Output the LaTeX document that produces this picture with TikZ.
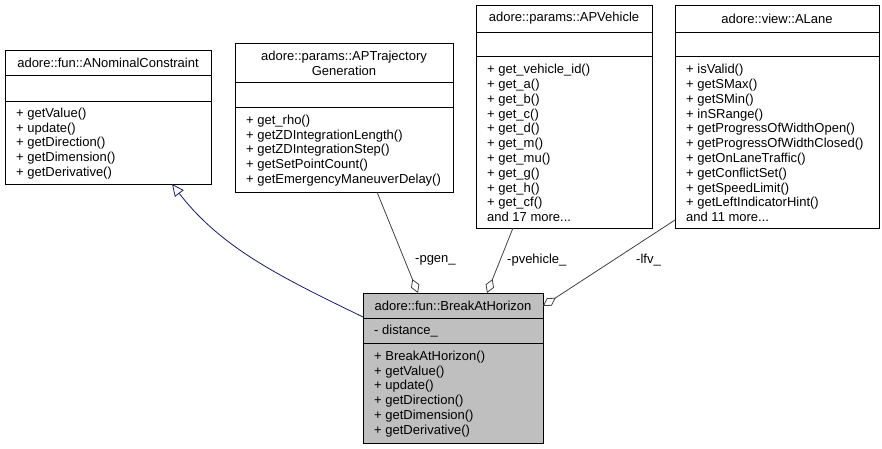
\documentclass[tikz,border=0pt]{standalone}
\usepackage{fontspec}
\setmainfont{Liberation Sans}
\usetikzlibrary{arrows.meta}
\definecolor{edgeblue}{HTML}{191970}
\definecolor{edgegray}{HTML}{404040}
\definecolor{boxgray}{HTML}{BFBFBF}
\begin{document}
\begin{tikzpicture}[x=1pt,y=-1pt,
  font=\fontsize{13}{14.8}\selectfont,
  umlbox/.style={draw=black, line width=0.9pt, fill=white, inner sep=0pt, anchor=north west},
  divider/.style={draw=black, line width=0.9pt},
  titletxt/.style={anchor=center, align=center, inner sep=0pt},
  membtxt/.style={anchor=west, align=left, inner sep=0pt},
  inherit/.style={draw=edgeblue, line width=0.8pt, -{Triangle[open, length=12pt, width=11pt, fill=white]}},
  aggreg/.style={draw=edgegray, line width=0.8pt, {Diamond[open, length=15pt, width=9pt, fill=white]}-},
  edgelabel/.style={anchor=west, inner sep=0pt}]
\useasboundingbox (0,0) rectangle (882,448);

% ANominalConstraint
\node[umlbox, minimum width=206pt, minimum height=134pt] (nc) at (5,50) {};
\draw[divider] (5,75) -- (211,75);
\draw[divider] (5,101) -- (211,101);
\node[titletxt] (nct) at (108,62.5) {adore::fun::ANominalConstraint};
\node[membtxt] (ncm) at (16,143.5) {+ getValue()\\+ update()\\+ getDirection()\\+ getDimension()\\+ getDerivative()};

% APTrajectoryGeneration
\node[umlbox, minimum width=218pt, minimum height=149pt] (tg) at (235,43) {};
\draw[divider] (235,82) -- (453,82);
\draw[divider] (235,107) -- (453,107);
\node[titletxt] (tgt) at (344,63.5) {adore::params::APTrajectory\\Generation};
\node[membtxt] (tgm) at (246,150.5) {+ get\_rho()\\+ getZDIntegrationLength()\\+ getZDIntegrationStep()\\+ getSetPointCount()\\+ getEmergencyManeuverDelay()};

% APVehicle
\node[umlbox, minimum width=176pt, minimum height=223pt] (av) at (476,5) {};
\draw[divider] (476,32) -- (652,32);
\draw[divider] (476,56) -- (652,56);
\node[titletxt] (avt) at (564,18.5) {adore::params::APVehicle};
\node[membtxt] (avm) at (487,143) {+ get\_vehicle\_id()\\+ get\_a()\\+ get\_b()\\+ get\_c()\\+ get\_d()\\+ get\_m()\\+ get\_mu()\\+ get\_g()\\+ get\_h()\\+ get\_cf()\\and 17 more...};

% ALane
\node[umlbox, minimum width=204pt, minimum height=223pt] (al) at (675,5) {};
\draw[divider] (675,32) -- (879,32);
\draw[divider] (675,56) -- (879,56);
\node[titletxt] (alt) at (777,18.5) {adore::view::ALane};
\node[membtxt] (alm) at (686,143) {+ isValid()\\+ getSMax()\\+ getSMin()\\+ inSRange()\\+ getProgressOfWidthOpen()\\+ getProgressOfWidthClosed()\\+ getOnLaneTraffic()\\+ getConflictSet()\\+ getSpeedLimit()\\+ getLeftIndicatorHint()\\and 11 more...};

% BreakAtHorizon
\node[umlbox, fill=boxgray, minimum width=180pt, minimum height=150pt] (br) at (363,293) {};
\draw[divider] (363,318) -- (543,318);
\draw[divider] (363,343) -- (543,343);
\node[titletxt] (brt) at (453,305.5) {adore::fun::BreakAtHorizon};
\node[membtxt] (bra) at (374,331) {- distance\_};
\node[membtxt] (brm) at (374,394) {+ BreakAtHorizon()\\+ getValue()\\+ update()\\+ getDirection()\\+ getDimension()\\+ getDerivative()};

% edges
\coordinate (brL) at (363,317);
\coordinate (ncB) at (172,184);
\draw[inherit] (brL) .. controls (283,278) and (222,249) .. (ncB);

\coordinate (brT1) at (418,293);
\coordinate (tgB) at (377,192);
\draw[aggreg] (brT1) -- (tgB);
\node[edgelabel] (lpgen) at (415,260) {-pgen\_};

\coordinate (brT2) at (487,293);
\coordinate (avB) at (513,228);
\draw[aggreg] (brT2) -- (avB);
\node[edgelabel] (lpveh) at (507,260) {-pvehicle\_};

\coordinate (brR) at (543,306);
\coordinate (alL) at (675,220);
\draw[aggreg] (brR) -- (alL);
\node[edgelabel] (llfv) at (636,260) {-lfv\_};
\end{tikzpicture}
\end{document}
